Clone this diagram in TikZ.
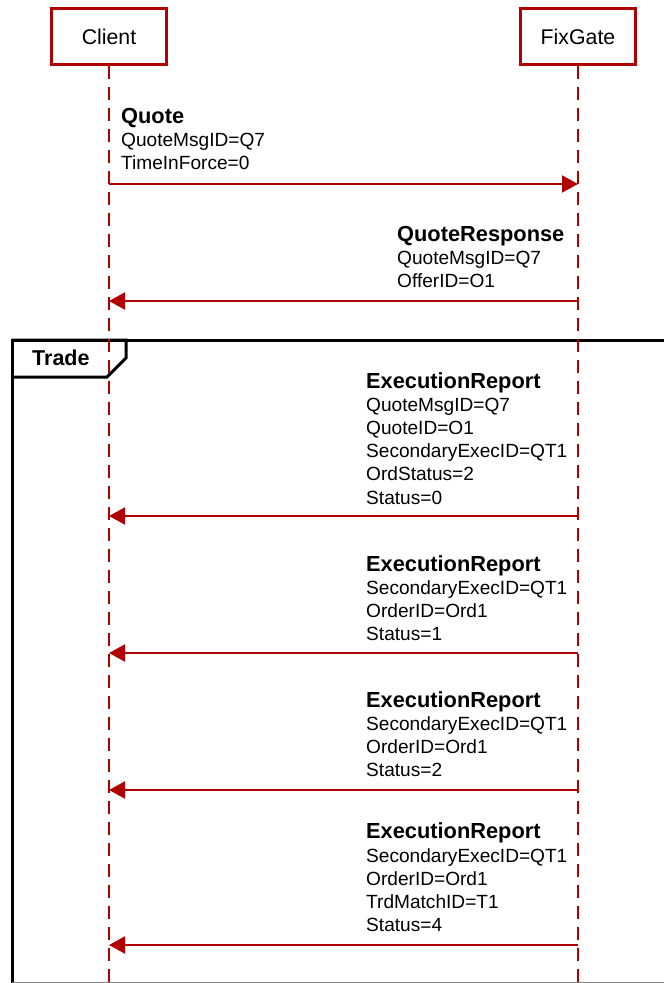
\documentclass[tikz,border=0pt]{standalone}
\usepackage{fontspec}
\setmainfont{Liberation Sans}
\usetikzlibrary{arrows.meta}
\definecolor{seqred}{RGB}{176,0,0}

\tikzset{
  lifebox/.style={draw=seqred, line width=3pt, fill=white,
    minimum width=115pt, minimum height=56pt, inner sep=0pt,
    font=\fontsize{21.3}{25}\selectfont},
  lifeline/.style={seqred, line width=2pt, dash pattern=on 13pt off 8pt},
  msg/.style={seqred, line width=2pt, -{Triangle[length=16pt,width=17pt]}},
  msgtext/.style={anchor=south west, inner sep=0pt, align=left,
    font=\fontsize{19.1}{23.2}\selectfont},
  fragment/.style={black, line width=3pt},
}
\newcommand{\msgtitle}[1]{{\fontsize{21.8}{23.2}\selectfont\bfseries #1}}

\begin{document}
\begin{tikzpicture}[x=1pt, y=-1pt]
\useasboundingbox (0,0) rectangle (664,983);
\def\xC{109}
\def\xF{578}
\def\xT{366}

% combined fragment "Trade"
\draw[fragment] (12,985) -- (12,340) -- (700,340);
\draw[fragment] (12,340) -- (126,340) -- (126,358) -- (107,377) -- (12,377);
\draw[gray, line width=1.5pt] (12,982.5) -- (700,982.5);
\node[anchor=base west, inner sep=0pt, font=\fontsize{21.5}{25}\selectfont\bfseries]
  (trade) at (32,365) {Trade};

% lifelines
\node[lifebox] (client) at (\xC,36.5) {Client};
\node[lifebox] (fixgate) at (\xF,36.5) {FixGate};
\coordinate (clientEnd) at (\xC,983);
\coordinate (fixgateEnd) at (\xF,983);
\draw[lifeline] (client.south) -- (clientEnd);
\draw[lifeline] (fixgate.south) -- (fixgateEnd);

% messages
\coordinate (qC) at (\xC,184);
\coordinate (qF) at (\xF,184);
\coordinate (qrC) at (\xC,301);
\coordinate (qrF) at (\xF,301);
\coordinate (erAC) at (\xC,516);
\coordinate (erAF) at (\xF,516);
\coordinate (erBC) at (\xC,653);
\coordinate (erBF) at (\xF,653);
\coordinate (erCC) at (\xC,790);
\coordinate (erCF) at (\xF,790);
\coordinate (erDC) at (\xC,945);
\coordinate (erDF) at (\xF,945);

\draw[msg] (qC) -- (qF);
\draw[msg] (qrF) -- (qrC);
\draw[msg] (erAF) -- (erAC);
\draw[msg] (erBF) -- (erBC);
\draw[msg] (erCF) -- (erCC);
\draw[msg] (erDF) -- (erDC);

\node[msgtext] (quote) at (121,170) {\msgtitle{Quote}\\
  QuoteMsgID=Q7\\
  TimeInForce=0};
\node[msgtext] (quoteResp) at (397,288) {\msgtitle{QuoteResponse}\\
  QuoteMsgID=Q7\\
  OfferID=O1};
\node[msgtext] (execA) at (\xT,504.5) {\msgtitle{ExecutionReport}\\
  QuoteMsgID=Q7\\
  QuoteID=O1\\
  SecondaryExecID=QT1\\
  OrdStatus=2\\
  Status=0};
\node[msgtext] (execB) at (\xT,641) {\msgtitle{ExecutionReport}\\
  SecondaryExecID=QT1\\
  OrderID=Ord1\\
  Status=1};
\node[msgtext] (execC) at (\xT,777) {\msgtitle{ExecutionReport}\\
  SecondaryExecID=QT1\\
  OrderID=Ord1\\
  Status=2};
\node[msgtext] (execD) at (\xT,932) {\msgtitle{ExecutionReport}\\
  SecondaryExecID=QT1\\
  OrderID=Ord1\\
  TrdMatchID=T1\\
  Status=4};
\end{tikzpicture}
\end{document}
